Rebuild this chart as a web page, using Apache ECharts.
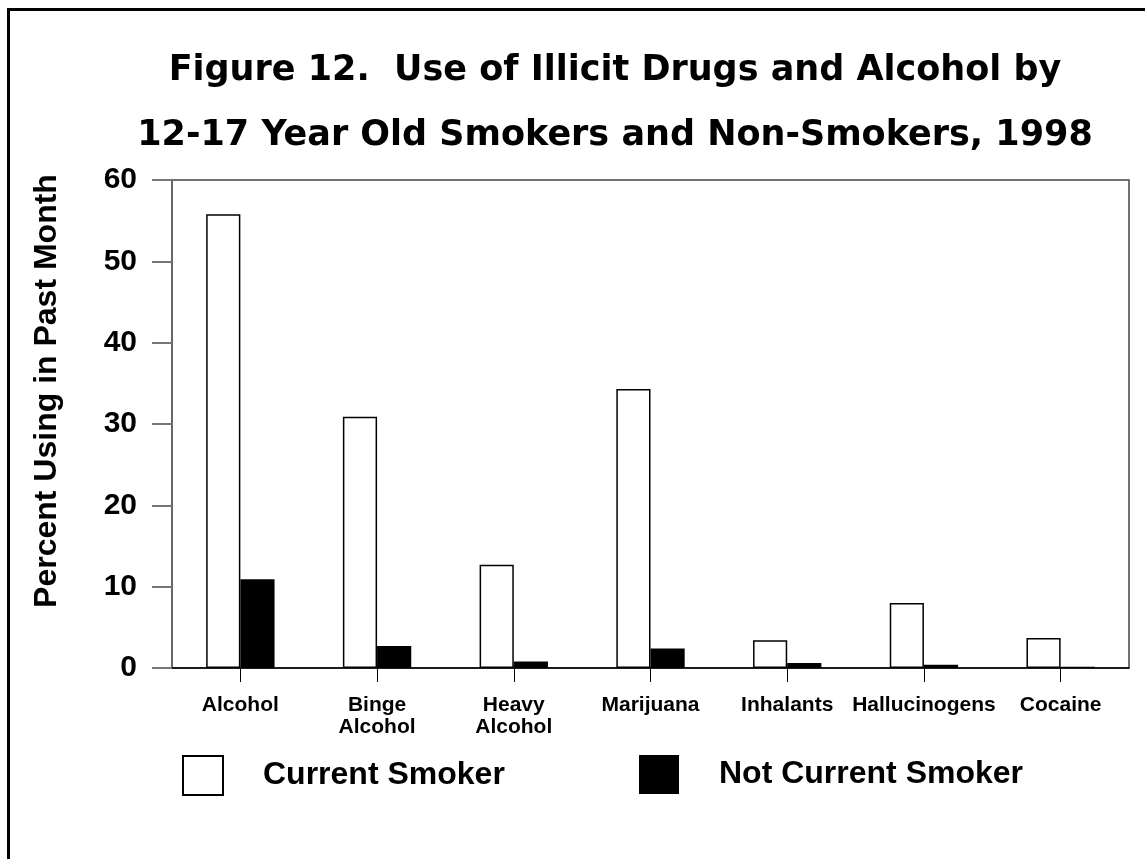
<!DOCTYPE html>
<html>
<head>
<meta charset="utf-8">
<script src="https://cdn.jsdelivr.net/npm/echarts@6/dist/echarts.min.js"></script>
<style>
  html, body { margin: 0; padding: 0; background: #fff; }
  #chart { width: 1145px; height: 859px; }
</style>
</head>
<body>
<div id="chart"></div>
<script>
const titleLines = ['Figure 12.  Use of Illicit Drugs and Alcohol by', '12-17 Year Old Smokers and Non-Smokers, 1998'];
const yAxisTitle = 'Percent Using in Past Month';
const categories = ['Alcohol', 'Binge\nAlcohol', 'Heavy\nAlcohol', 'Marijuana', 'Inhalants', 'Hallucinogens', 'Cocaine'];
const seriesNames = ['Current Smoker', 'Not Current Smoker'];
const currentSmoker = [55.8, 30.9, 12.7, 34.3, 3.4, 8.0, 3.7];
const notCurrentSmoker = [10.9, 2.7, 0.8, 2.4, 0.6, 0.4, 0.15];
const yMin = 0, yMax = 60, yStep = 10;

const chart = echarts.init(document.getElementById('chart'), null, { renderer: 'canvas' });
const legendText = { fontFamily: 'Liberation Sans', fontWeight: 'bold', fontSize: 32, color: '#000', padding: [6, 0, 0, 35] };
chart.setOption({
  backgroundColor: '#fff',
  animation: false,
  title: {
    text: titleLines.join('\n'),
    left: 610,
    textAlign: 'center',
    top: 33,
    textStyle: { fontFamily: 'DejaVu Sans', fontWeight: 'bold', fontSize: 35, lineHeight: 65, color: '#000' }
  },
  graphic: [
    { type: 'rect', shape: { x: 8.5, y: 9.5, width: 1300, height: 1000 }, style: { fill: 'none', stroke: '#000', lineWidth: 3 }, silent: true },
    { type: 'text', x: 47, y: 391, rotation: Math.PI / 2,
      style: { text: yAxisTitle, fontFamily: 'Liberation Sans', fontWeight: 'bold', fontSize: 32, fill: '#000', align: 'center', verticalAlign: 'middle' } }
  ],
  legend: [
    { data: [seriesNames[0]], left: 177, top: 750, itemWidth: 40, itemHeight: 39, icon: 'rect', textStyle: legendText },
    { data: [seriesNames[1]], left: 634, top: 750, itemWidth: 40, itemHeight: 39, icon: 'rect', textStyle: legendText }
  ],
  grid: { left: 172, right: 16, top: 180, bottom: 191, show: true, borderColor: '#444', borderWidth: 1.5, backgroundColor: 'transparent' },
  xAxis: {
    type: 'category',
    data: categories,
    axisLine: { lineStyle: { color: '#000', width: 1.5 } },
    axisTick: { show: true, alignWithLabel: true, length: 14, lineStyle: { color: '#000', width: 1 } },
    axisLabel: { interval: 0, margin: 26, fontFamily: 'Liberation Sans', fontWeight: 'bold', fontSize: 21, lineHeight: 22, color: '#000' },
    splitLine: { show: false }
  },
  yAxis: {
    type: 'value',
    min: yMin, max: yMax, interval: yStep,
    axisLine: { show: true, lineStyle: { color: '#666', width: 2 } },
    axisTick: { show: true, length: 20, lineStyle: { color: '#777', width: 2 } },
    axisLabel: { margin: 35, fontFamily: 'Liberation Sans', fontWeight: 'bold', fontSize: 30, color: '#000' },
    splitLine: { show: false }
  },
  series: [
    { name: seriesNames[0], type: 'bar', data: currentSmoker, barWidth: '25%', barGap: '0%',
      itemStyle: { color: '#fff', borderColor: '#000', borderWidth: 1.5 } },
    { name: seriesNames[1], type: 'bar', data: notCurrentSmoker, barWidth: '25%', barGap: '0%',
      itemStyle: { color: '#000', borderColor: '#000', borderWidth: 0 } }
  ]
});
</script>
</body>
</html>
